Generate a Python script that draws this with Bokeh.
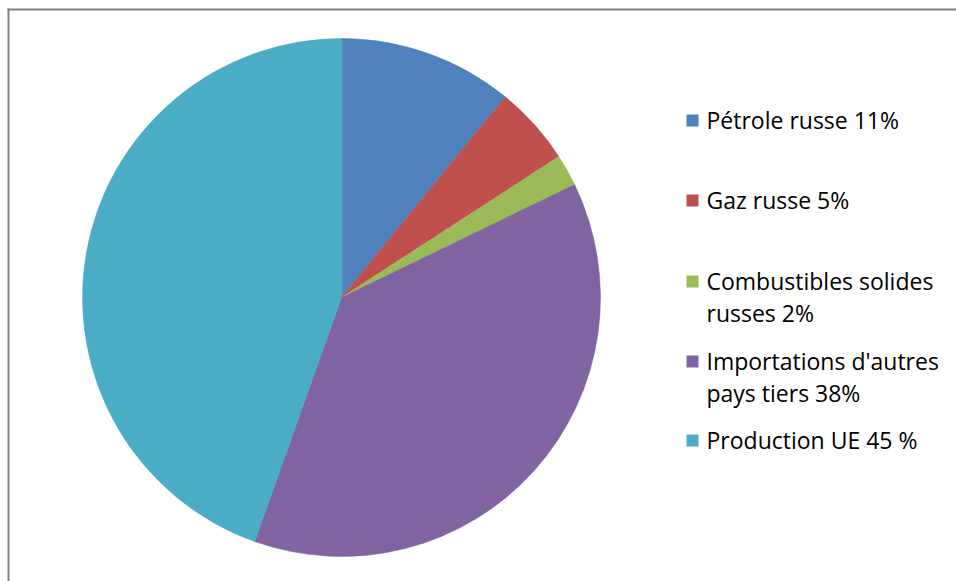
import math
from bokeh.plotting import figure
from bokeh.models import Range1d, ColumnDataSource
from bokeh.core.properties import value
from bokeh.embed import file_html
from bokeh.resources import INLINE

# ---- data ----
categories = ["Pétrole russe 11%", "Gaz russe 5%", "Combustibles solides\nrusses 2%",
              "Importations d'autres\npays tiers 38%", "Production UE 45 %"]
shares = [11, 5, 2, 38, 45]
colors = ["#4F81BD", "#C0504D", "#9BBB59", "#8064A2", "#4BACC6"]

W, H = 956, 581
p = figure(width=W, height=H, output_backend="svg", toolbar_location=None,
           x_range=Range1d(0, W), y_range=Range1d(0, H),
           min_border_left=0, min_border_top=0, min_border_right=0, min_border_bottom=0)
p.axis.visible = False
p.grid.visible = False
p.outline_line_color = None
p.border_fill_color = "white"
p.background_fill_color = "white"

def Y(py):
    return H - py

# chart-area border (top and left edges visible)
p.quad(left=[7, 7], right=[W, 9], top=[Y(8), Y(8)], bottom=[Y(10), 0],
       fill_color="#808080", line_color=None)

cx, cy = 341, Y(297)
radius = 259

total = float(sum(shares))
starts, ends = [], []
cum = 0.0
for s in shares:
    a0 = math.pi / 2 - 2 * math.pi * cum / total
    cum += s
    a1 = math.pi / 2 - 2 * math.pi * cum / total
    starts.append(a0)
    ends.append(a1)

src = ColumnDataSource(dict(x=[cx] * len(shares), y=[cy] * len(shares),
                            start=starts, end=ends, color=colors))
p.wedge(x="x", y="y", radius=radius, radius_units="screen", start_angle="start",
        end_angle="end", direction="clock", fill_color="color", line_color="color",
        line_width=0.5, source=src)

# ---- legend (manual) ----
row_py = [120, 200, 281, 361, 440]
line_gap = 32
sq_x = 692
txt_x = 706
p.rect(x=[sq_x] * len(categories), y=[Y(v) for v in row_py], width=12, height=12,
       width_units="screen", height_units="screen", fill_color=colors, line_color=None)

tx, ty, tt = [], [], []
for lab, py in zip(categories, row_py):
    for i, line in enumerate(lab.split("\n")):
        tx.append(txt_x)
        ty.append(Y(py - 1 + i * line_gap))
        tt.append(line)
p.text(x=tx, y=ty, text=tt, text_font=value("Open Sans"), text_font_size="23px",
       text_baseline="middle", text_align="left", text_color="#000000")

open("out.html", "w").write(file_html(p, INLINE))
